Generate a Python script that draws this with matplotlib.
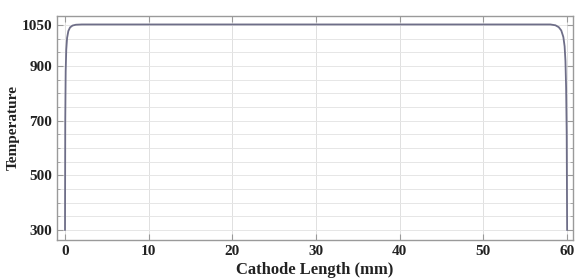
import matplotlib
matplotlib.use("Agg")
import matplotlib.pyplot as plt
from matplotlib.ticker import MultipleLocator

# Data
length_mm = [0, 0.03, 0.08, 0.15, 0.25, 0.4, 0.6, 0.9, 1.3, 2.0, 30, 58.0, 58.6, 59.0, 59.3, 59.55, 59.7, 59.8, 59.88, 59.95, 60.0]
temperature = [300, 700, 880, 960, 1003, 1028, 1041, 1048, 1051, 1052, 1052, 1052, 1049, 1042, 1030, 1006, 972, 918, 820, 650, 300]

yticks = [300, 500, 700, 900, 1050]
xticks = [0, 10, 20, 30, 40, 50, 60]

fig = plt.figure(figsize=(5.79, 2.80), dpi=100)
ax = fig.add_axes([0.0984, 0.1429, 0.8912, 0.8])

ax.plot(length_mm, temperature, color="#6e6e88", lw=1.3)

ax.set_xlim(-0.96, 60.7)
ax.set_ylim(263, 1083)
ax.set_xticks(xticks)
ax.set_yticks(yticks)
ax.yaxis.set_minor_locator(MultipleLocator(50))
ax.xaxis.set_minor_locator(MultipleLocator(10))

ax.grid(True, which="major", axis="x", color="#e0e0e0", lw=0.7)
ax.grid(True, which="minor", axis="y", color="#e6e6e6", lw=0.7)
ax.grid(True, which="major", axis="y", color="#e6e6e6", lw=0.7)

for s in ax.spines.values():
    s.set_color("#9a9a9a")
    s.set_linewidth(1.0)

ax.tick_params(axis="both", which="both", direction="in", colors="#9a9a9a",
               right=True, top=True, labelcolor="#222222")
ax.tick_params(which="major", length=4)
ax.tick_params(which="minor", length=2.5)

fp = dict(family="Liberation Serif", weight="bold")
for lab in ax.get_xticklabels() + ax.get_yticklabels():
    lab.set_fontfamily("Liberation Serif")
    lab.set_fontweight("bold")
    lab.set_fontsize(11)

ax.set_xlabel("Cathode Length (mm)", fontsize=12, labelpad=3, color="#222222", **fp)
ax.set_ylabel("Temperature", fontsize=11, labelpad=1, color="#222222", **fp)

fig.savefig("out.png", dpi=100)
